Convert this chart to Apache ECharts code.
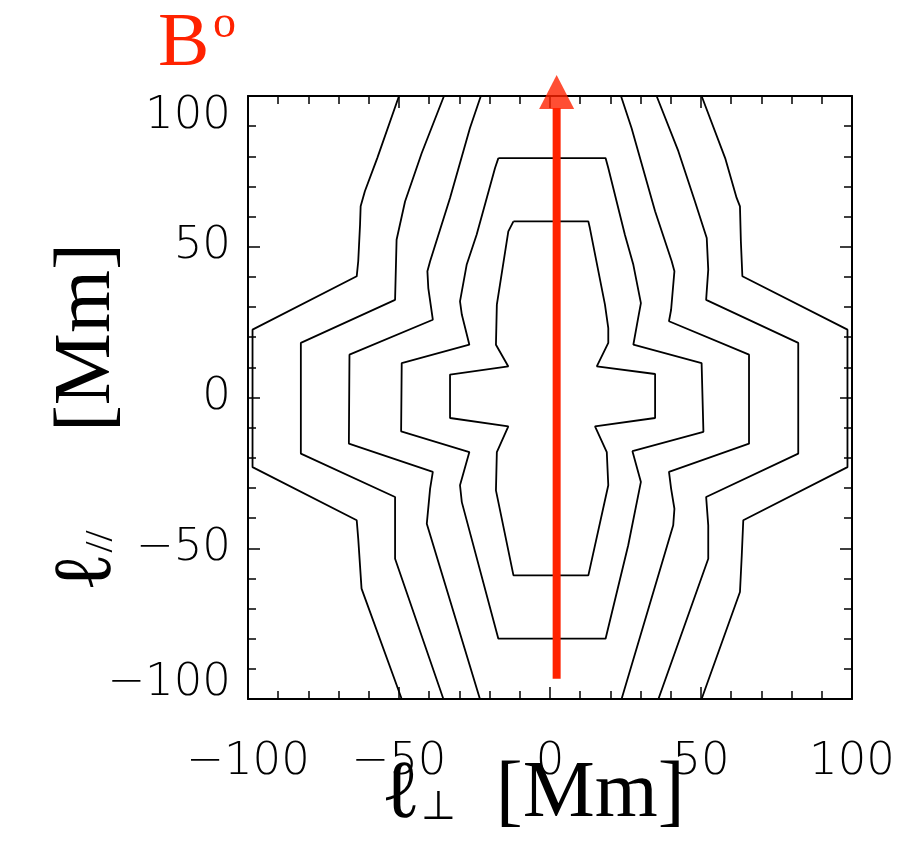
<!DOCTYPE html>
<html>
<head>
<meta charset="utf-8">
<script src="https://cdn.jsdelivr.net/npm/echarts@6/dist/echarts.min.js"></script>
<style>html,body{margin:0;padding:0;background:#fff;}#c{width:908px;height:841px;}</style>
</head>
<body>
<div id="c"></div>
<script>
// axis ticks
var tickValues = [-100, -50, 0, 50, 100];

// contour polylines [l_perp, l_par] in Mm
var contourOuterLeft = [[-50,100],[-57.2,79.4],[-61.3,68.4],[-62.7,63.4],[-62.9,57.3],[-63.5,45.2],[-64,40.2],[-98.5,22.5],[-98.5,-23.1],[-64,-40.7],[-63.5,-46.8],[-62.4,-63.4],[-49.1,-100]];
var contourOuterRight = [[50.2,100],[58,79.4],[61.8,66.2],[62.9,63.4],[63.2,51.8],[63.7,40.2],[98.5,22.5],[98.5,-23.1],[64,-40.7],[63.5,-52.3],[62.9,-64.5],[50.2,-100]];
var contourThirdLeft = [[-35.1,100],[-42.5,81],[-48,65],[-50.8,52.3],[-51.3,32.4],[-82.5,18.1],[-82.5,-18.6],[-51.3,-33],[-51.3,-53.5],[-35.3,-100]];
var contourThirdRight = [[35.3,100],[42.5,81.7],[48,65],[51.9,52.9],[52.4,42.4],[51.7,32.4],[82.2,18.1],[82.2,-18.6],[51.7,-33],[52.4,-42.4],[52.4,-53.5],[35.9,-100]];
var contourSecondLeft = [[-22.9,100],[-26.5,89.4],[-33.1,66.2],[-39.7,45.2],[-40.6,41.9],[-40.3,36.3],[-38.8,25.8],[-66.4,14.2],[-66.6,-15.3],[-38.8,-24.7],[-39.7,-30.2],[-40.8,-41.9],[-23.2,-100]];
var contourSecondRight = [[23.5,100],[27,89.4],[34.8,61.8],[40.3,45.2],[41.2,41.9],[40.1,29.1],[39.4,25.3],[65.9,14.2],[65.9,-15.3],[39.4,-24.7],[40.1,-30.2],[41.2,-36.9],[40.8,-42.4],[23.7,-100]];
var contourInner = [[-17.1,79.4],[18.4,79.4],[19.3,76.1],[24.8,54],[27.6,44],[30.1,31.3],[29.2,26.4],[27.6,17.5],[50.2,11.4],[50.8,-11.4],[27.3,-17.8],[30.1,-28],[25.9,-49],[18.4,-80],[-17.1,-80],[-29.2,-34.7],[-29.8,-29.1],[-26.7,-18.1],[-49.3,-11.2],[-49.1,11.4],[-26.7,17.5],[-29.2,27.5],[-29.8,31.9],[-27.6,44],[-24.3,54],[-18.2,76.1],[-17.1,79.4]];
var contourCore = [[-12.1,58.4],[12.7,58.4],[13.2,56.2],[18.2,30.8],[19.3,23],[19.3,18.1],[15.5,10.3],[34.8,7.8],[34.8,-6.8],[14.9,-9.6],[18.8,-18.1],[19.3,-29.1],[12.7,-59],[-12.1,-59],[-17.9,-30.8],[-17.6,-18.1],[-13.8,-9.6],[-33.1,-6.8],[-33.1,7.6],[-13.8,10.3],[-17.9,17.5],[-17.6,30.8],[-13.8,55.1],[-12.1,58.4]];

// magnetic field direction arrow (B°)
var arrowShaft = [[2.2,-93.3],[2.2,96]];
var arrowHead = [[2.2,101.3]];

var RED = '#ff2200';
var chart = echarts.init(document.getElementById('c'), null, {renderer:'canvas'});

function num(v){ return (v < 0 ? '\u2212' : '') + Math.abs(v); }
function fmtY(v){
  var s = num(v);
  if (v === 100) return '{t|' + s + '}';
  if (v === -100) return '{b|' + s + '}';
  return '{n|' + s + '}';
}
var labFont = {fontFamily:'DejaVu Sans', fontSize:45, fontWeight:200, color:'#000'};
function rich(){
  return {
    n: Object.assign({}, labFont),
    t: Object.assign({padding:[40,0,0,0]}, labFont),
    b: Object.assign({padding:[0,0,32,0]}, labFont)
  };
}
var tickStyle = {inside:true, length:12, lineStyle:{color:'#000', width:1.5}};
var minorStyle = {show:true, splitNumber:5, length:8, lineStyle:{color:'#000', width:1.5}};
var lineAx = {show:true, onZero:false, lineStyle:{color:'#000', width:2}};

function titleRich(gap){
  return {
    l:{fontFamily:'Liberation Serif', fontSize:82, color:'#000'},
    s:{fontFamily:'Liberation Serif', fontSize:40, color:'#000', verticalAlign:'bottom', padding:[0,gap,8,0]},
    m:{fontFamily:'Liberation Serif', fontSize:81, color:'#000'}
  };
}

function contour(name, data){
  return {type:'line', name:name, data:data, symbol:'none', silent:true, animation:false,
          lineStyle:{color:'#000', width:1.8}, z:2};
}

chart.setOption({
  animation:false,
  backgroundColor:'#fff',
  grid:{left:248, top:96, width:604, height:603, containLabel:false, outerBoundsMode:'none'},
  xAxis:[{
    type:'value', min:-100, max:100, interval:50, position:'bottom',
    axisLine:lineAx, axisTick:tickStyle, minorTick:minorStyle, splitLine:{show:false},
    axisLabel:Object.assign({margin:41, formatter:function(v){return num(v);}}, labFont),
    name:'{l|\u2113}{s|\u22a5}{m| [Mm]}', nameLocation:'middle', nameGap:55, nameMoveOverlap:false,
    nameTextStyle:{rich:titleRich(20), padding:[0,34,0,0]}
  },{
    type:'value', min:-100, max:100, interval:50, position:'top',
    axisLine:lineAx, axisTick:tickStyle, minorTick:minorStyle, splitLine:{show:false},
    axisLabel:{show:false}
  }],
  yAxis:[{
    type:'value', min:-100, max:100, interval:50, position:'left',
    axisLine:lineAx, axisTick:tickStyle, minorTick:minorStyle, splitLine:{show:false},
    axisLabel:{margin:17, formatter:function(v){return fmtY(v);}, rich:rich()},
    name:'{l|\u2113}{s|//}{m| [Mm]}', nameLocation:'middle', nameGap:119, nameRotate:90, nameMoveOverlap:false,
    nameTextStyle:{rich:titleRich(78), padding:[0,40,0,0]}
  },{
    type:'value', min:-100, max:100, interval:50, position:'right',
    axisLine:lineAx, axisTick:tickStyle, minorTick:minorStyle, splitLine:{show:false},
    axisLabel:{show:false}
  }],
  graphic:[{
    type:'text', left:158, top:6, z:10,
    style:{text:'B', fontFamily:'Liberation Serif', fontSize:77, lineHeight:77, fill:RED}
  },{
    type:'text', left:213, top:2, z:10,
    style:{text:'o', fontFamily:'Liberation Serif', fontSize:46, lineHeight:46, fill:RED}
  }],
  series:[
    contour('outer-left', contourOuterLeft),
    contour('outer-right', contourOuterRight),
    contour('third-left', contourThirdLeft),
    contour('third-right', contourThirdRight),
    contour('second-left', contourSecondLeft),
    contour('second-right', contourSecondRight),
    contour('inner', contourInner),
    contour('core', contourCore),
    {type:'line', name:'B arrow', data:arrowShaft, symbol:'none', silent:true,
     lineStyle:{color:RED, width:8, cap:'butt'}, z:5},
    {type:'scatter', name:'B arrow head', data:arrowHead, symbol:'triangle', symbolSize:[35,34],
     itemStyle:{color:RED}, clip:false, silent:true, z:6}
  ]
});
</script>
</body>
</html>
